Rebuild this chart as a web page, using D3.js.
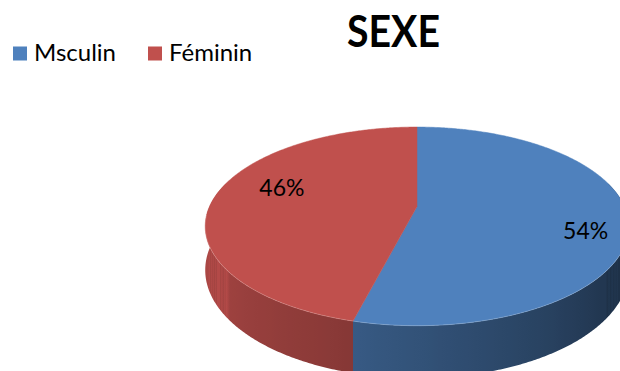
<!DOCTYPE html>
<html>
<head>
<meta charset="utf-8">
<script src="https://cdn.jsdelivr.net/npm/d3@7"></script>
<style>
  html, body { margin: 0; padding: 0; background: #fff; }
  svg { display: block; }
  text { font-family: Lato, "Liberation Sans", sans-serif; }
</style>
</head>
<body>
<svg id="chart" width="620" height="371"></svg>
<script>
// Chart data
const title = "SEXE";
const categories = ["Msculin", "Féminin"];
const values = [54, 46];
const colors = ["#4f81bd", "#c0504d"];

const svg = d3.select("#chart");
const defs = svg.append("defs");

// 3D disc geometry (perspective-projected tilted circle)
const cx = 417, cy = 206.5;
const Rx = 207.5, Ry = 95.35;
const persp = 0.2;       // foreshortening: front edge larger than back
const depth = 42;        // thickness of the disc

function project(theta, r, z) {
  const u = r * Math.sin(theta);
  const v = -r * Math.cos(theta);
  const d = 1 - persp * v;
  return [cx + Rx * u / d, cy + (Ry * v + z) / d];
}

const pie = d3.pie().sort(null).value(d => d);
const arcs = pie(values);

// shade of the side wall as a function of the wall's direction (degrees)
const shade = d3.scaleLinear()
  .domain([0, 90, 130, 200, 270, 360])
  .range([0.38, 0.38, 0.43, 0.72, 0.93, 0.93])
  .clamp(true);

const toRad = Math.PI / 180;
const frontStart = 75 * toRad, frontEnd = 285 * toRad;   // visible part of the wall
const line = d3.line();

// side walls: one path per slice, shaded with a horizontal gradient
const sides = [];
arcs.forEach((a, i) => {
  const t0 = Math.max(a.startAngle, frontStart);
  const t1 = Math.min(a.endAngle, frontEnd);
  if (t1 <= t0) return;
  const n = Math.ceil((t1 - t0) / (0.5 * toRad));
  const ts = d3.range(n + 1).map(j => t0 + (t1 - t0) * j / n);
  const topPts = ts.map(t => project(t, 1, 0));
  const botPts = ts.map(t => project(t, 1, depth)).reverse();
  const xs = topPts.map(p => p[0]);
  const x0 = d3.min(xs), x1 = d3.max(xs);
  const base = d3.rgb(colors[i]);
  const id = "side-" + i;
  const grad = defs.append("linearGradient")
    .attr("id", id)
    .attr("gradientUnits", "userSpaceOnUse")
    .attr("x1", x0).attr("x2", x1).attr("y1", 0).attr("y2", 0);
  const stops = ts.filter((t, j) => j % 4 === 0 || j === n).map(t => {
    const k = shade(t / toRad);
    return {
      off: (project(t, 1, 0)[0] - x0) / (x1 - x0),
      color: d3.rgb(base.r * k, base.g * k, base.b * k).formatHex()
    };
  }).sort((p, q) => p.off - q.off);
  grad.selectAll("stop").data(stops).join("stop")
    .attr("offset", d => d.off)
    .attr("stop-color", d => d.color);
  sides.push({ d: line(topPts.concat(botPts)) + "Z", fill: `url(#${id})` });
});

svg.append("g").attr("class", "sides")
  .selectAll("path")
  .data(sides)
  .join("path")
  .attr("d", d => d.d)
  .attr("fill", d => d.fill);

// top faces
function topPath(a) {
  const pts = [project(0, 0, 0)];
  const n = Math.max(2, Math.ceil((a.endAngle - a.startAngle) / (0.5 * toRad)));
  for (let j = 0; j <= n; j++) {
    const t = a.startAngle + (a.endAngle - a.startAngle) * j / n;
    pts.push(project(t, 1, 0));
  }
  return line(pts) + "Z";
}

svg.append("g").attr("class", "tops")
  .selectAll("path")
  .data(arcs)
  .join("path")
  .attr("d", topPath)
  .attr("fill", (d, i) => colors[i])
  .attr("stroke", (d, i) => colors[i])
  .attr("stroke-width", 0.5);

// faint highlight along the front rim
const rimPts = d3.range(95, 266, 1).map(deg => project(deg * toRad, 1, 0));
svg.append("path")
  .attr("d", line(rimPts))
  .attr("fill", "none")
  .attr("stroke", "rgba(255,255,255,0.18)")
  .attr("stroke-width", 1);

// data labels
const labelTurn = 10 * toRad;
const labelRadius = [0.81, 0.71];
svg.append("g").attr("class", "labels")
  .selectAll("text")
  .data(arcs)
  .join("text")
  .each(function(d, i) {
    const mid = (d.startAngle + d.endAngle) / 2 + labelTurn;
    const [x, y] = project(mid, labelRadius[i], 0);
    d3.select(this).attr("x", x).attr("y", y);
  })
  .attr("dy", "0.36em")
  .attr("text-anchor", "middle")
  .attr("font-size", 23)
  .attr("fill", "#000")
  .text(d => d.data + "%");

// title
svg.append("text")
  .attr("x", 393.5)
  .attr("y", 47)
  .attr("text-anchor", "middle")
  .attr("font-size", 44)
  .attr("font-weight", "bold")
  .attr("fill", "#000")
  .attr("textLength", 93)
  .attr("lengthAdjust", "spacingAndGlyphs")
  .text(title);

// legend
const legendX = d3.scalePoint().domain(categories).range([13, 148]);
const legend = svg.append("g").attr("class", "legend")
  .selectAll("g")
  .data(categories)
  .join("g")
  .attr("transform", d => `translate(${legendX(d)},0)`);

legend.append("rect")
  .attr("x", 0).attr("y", 46.5)
  .attr("width", 14).attr("height", 14)
  .attr("fill", (d, i) => colors[i]);

legend.append("text")
  .attr("x", 21)
  .attr("y", 61)
  .attr("font-size", 24)
  .attr("fill", "#000")
  .text(d => d);
</script>
</body>
</html>
